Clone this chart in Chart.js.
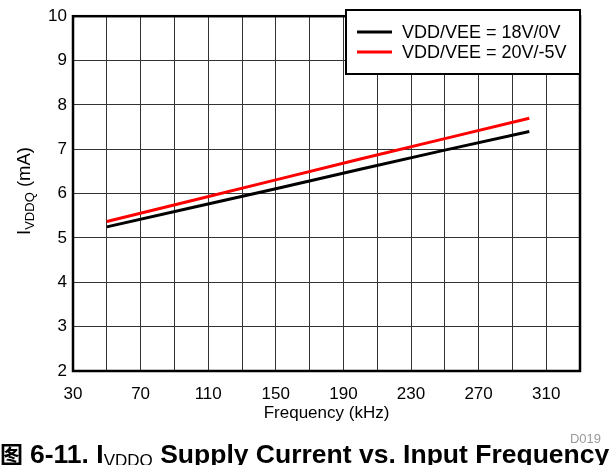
<!DOCTYPE html>
<html>
<head>
<meta charset="utf-8">
<script src="https://cdn.jsdelivr.net/npm/chart.js@4.4.1/dist/chart.umd.min.js"></script>
<style>
  html, body { margin: 0; padding: 0; background: #fff; }
  #wrap { width: 613px; height: 465px; position: relative; }
</style>
</head>
<body>
<div id="wrap"><canvas id="chart" width="613" height="465"></canvas></div>
<script>
// ---- data ----
const freqKHz   = [50, 100, 150, 200, 250, 300];
const iddq18_0  = [5.25, 5.68, 6.11, 6.55, 6.98, 7.40];
const iddq20_m5 = [5.37, 5.84, 6.31, 6.78, 7.24, 7.70];
const seriesLabels = ['VDD/VEE = 18V/0V', 'VDD/VEE = 20V/-5V'];
const seriesColors = ['#000000', '#ff0000'];
const xTickLabels = [30, 70, 110, 150, 190, 230, 270, 310];
const yTickLabels = [2, 3, 4, 5, 6, 7, 8, 9, 10];

const FONT = '"Liberation Sans", Arial, Helvetica, sans-serif';

function toPoints(ys) {
    return freqKHz.map((f, i) => ({ x: f, y: ys[i] }));
}

// draws frame, legend box, axis titles, caption
const decorations = {
    id: 'decorations',
    afterDraw(chart) {
        const ctx = chart.ctx;
        const a = chart.chartArea;
        ctx.save();

        // thick plot border
        ctx.strokeStyle = '#000';
        ctx.lineWidth = 2.5;
        ctx.strokeRect(a.left, a.top, a.right - a.left, a.bottom - a.top);

        // legend box (inside plot, top right)
        const lx = 346, ly = 10, lw = a.right - 346, lh = 64;
        ctx.fillStyle = '#fff';
        ctx.fillRect(lx, ly, lw, lh);
        ctx.lineWidth = 2;
        ctx.strokeRect(lx, ly, lw, lh);
        chart.data.datasets.forEach((ds, i) => {
            const y = 32 + i * 20;
            ctx.strokeStyle = ds.borderColor;
            ctx.lineWidth = 3;
            ctx.beginPath();
            ctx.moveTo(357, y);
            ctx.lineTo(392, y);
            ctx.stroke();
            ctx.fillStyle = '#000';
            ctx.font = '18px ' + FONT;
            ctx.textAlign = 'left';
            ctx.textBaseline = 'middle';
            ctx.fillText(ds.label, 402, y + 1);
        });

        // x axis title
        ctx.fillStyle = '#000';
        ctx.font = '17px ' + FONT;
        ctx.textAlign = 'center';
        ctx.textBaseline = 'middle';
        ctx.fillText('Frequency (kHz)', (a.left + a.right) / 2, 413);

        // y axis title with subscript, rotated
        ctx.save();
        ctx.translate(24, 191);
        ctx.rotate(-Math.PI / 2);
        ctx.textBaseline = 'alphabetic';
        ctx.textAlign = 'left';
        const big = '18.5px ' + FONT, small = '13px ' + FONT;
        ctx.font = big;  const w1 = ctx.measureText('I').width;
        ctx.font = small; const w2 = ctx.measureText('VDDQ').width;
        ctx.font = big;  const w3 = ctx.measureText(' (mA)').width;
        let x0 = -(w1 + w2 + w3) / 2;
        ctx.font = big;  ctx.fillText('I', x0, 6);
        ctx.font = small; ctx.fillText('VDDQ', x0 + w1, 10);
        ctx.font = big;  ctx.fillText(' (mA)', x0 + w1 + w2, 6);
        ctx.restore();

        // figure id
        ctx.fillStyle = '#9a9a9a';
        ctx.font = '13px ' + FONT;
        ctx.textAlign = 'right';
        ctx.textBaseline = 'alphabetic';
        ctx.fillText('D019', 601, 443);

        // caption
        ctx.fillStyle = '#000';
        ctx.textAlign = 'left';
        let cx = 0;
        const capY = 463;
        ctx.font = 'bold 23px "Noto Sans CJK SC", sans-serif';
        ctx.fillText('图', cx, capY);
        cx += ctx.measureText('图').width + 7;
        ctx.font = 'bold 26.5px ' + FONT;
        ctx.fillText('6-11. I', cx, capY);
        cx += ctx.measureText('6-11. I').width;
        ctx.font = '17px ' + FONT;
        ctx.fillText('VDDQ', cx, capY + 3);
        cx += ctx.measureText('VDDQ').width;
        ctx.font = 'bold 26.5px ' + FONT;
        ctx.fillText(' Supply Current vs. Input Frequency', cx, capY);

        ctx.restore();
    }
};

new Chart(document.getElementById('chart'), {
    type: 'line',
    data: {
        datasets: [
            { label: seriesLabels[0], data: toPoints(iddq18_0), borderColor: seriesColors[0], borderWidth: 3, pointRadius: 0, tension: 0, fill: false },
            { label: seriesLabels[1], data: toPoints(iddq20_m5), borderColor: seriesColors[1], borderWidth: 3, pointRadius: 0, tension: 0, fill: false }
        ]
    },
    plugins: [decorations],
    options: {
        responsive: false,
        animation: false,
        layout: { padding: { top: 11, right: 33, left: 0, bottom: 0 } },
        plugins: { legend: { display: false }, tooltip: { enabled: false } },
        scales: {
            x: {
                type: 'linear', min: 30, max: 330,
                afterFit(scale) { scale.height = 94; },
                border: { display: false },
                grid: { color: '#333', lineWidth: 1, drawTicks: false },
                ticks: {
                    stepSize: 20, padding: 13, color: '#000', maxRotation: 0, autoSkip: false,
                    font: { family: FONT, size: 17 },
                    callback: v => xTickLabels.includes(v) ? String(v) : ''
                }
            },
            y: {
                min: 2, max: 10,
                afterFit(scale) { scale.width = 73; },
                border: { display: false },
                grid: { color: '#333', lineWidth: 1, drawTicks: false },
                ticks: {
                    stepSize: 1, padding: 6, color: '#000',
                    font: { family: FONT, size: 17 },
                    callback: v => yTickLabels.includes(v) ? String(v) : ''
                }
            }
        }
    }
});
</script>
</body>
</html>
